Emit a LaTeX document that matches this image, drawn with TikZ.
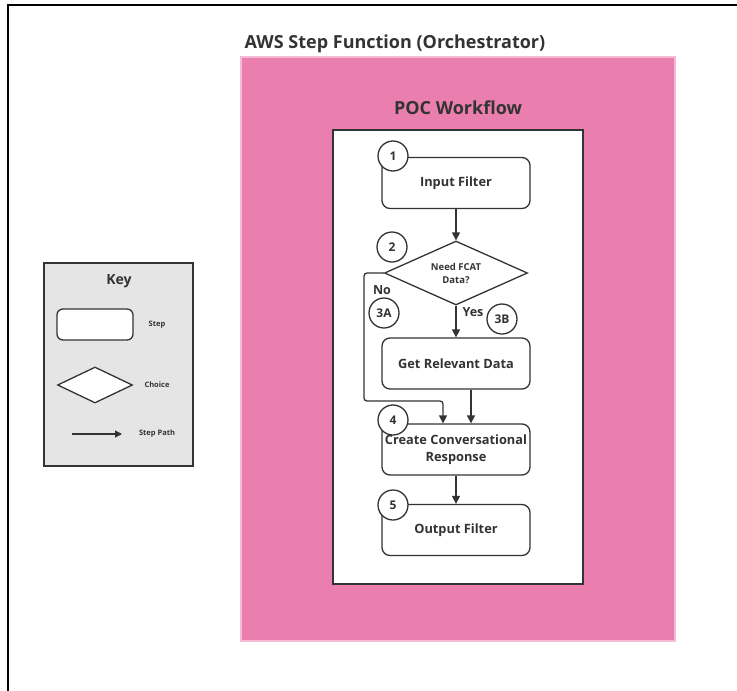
\documentclass[tikz,border=0pt]{standalone}
\usepackage{fontspec}
\setmainfont{Open Sans}
\usetikzlibrary{arrows.meta,shapes.geometric,calc}
\definecolor{pinkbg}{RGB}{234,127,175}
\definecolor{pinkedge}{RGB}{246,186,213}
\definecolor{ink}{RGB}{51,51,51}
\definecolor{keygray}{RGB}{229,229,229}
\tikzset{
  arr/.style={draw=ink, line width=1.3pt, -{Triangle[length=8pt,width=8pt]}},
  stepbox/.style={draw=ink, line width=1.3pt, fill=white, rounded corners=8pt,
    minimum width=148pt, minimum height=51pt, inner sep=1pt, align=center,
    font=\fontsize{12.8}{17}\selectfont\bfseries, text=ink},
  choicebox/.style={diamond, draw=ink, line width=1.3pt, fill=white, aspect=2.4,
    minimum width=143pt, minimum height=64pt, inner sep=0pt, align=center,
    font=\fontsize{9.5}{13}\selectfont\bfseries, text=ink},
  badge/.style={circle, draw=ink, line width=1.3pt, fill=white, minimum size=30pt,
    inner sep=0pt, font=\fontsize{12}{14}\selectfont\bfseries, text=ink},
  lbl/.style={font=\fontsize{12.5}{15}\selectfont\bfseries, text=ink, inner sep=0pt},
  keylbl/.style={font=\fontsize{7.5}{9}\selectfont\bfseries, text=ink, inner sep=0pt},
}
\begin{document}
\begin{tikzpicture}[x=1pt,y=-1pt]
\useasboundingbox (0,0) rectangle (737,691);
\fill[white] (0,0) rectangle (737,691);
% page frame (top and left edges)
\draw[black, line width=2.5pt] (8,691) -- (8,5) -- (737,5);

% orchestrator container
\node[font=\fontsize{18}{21}\selectfont\bfseries, text=ink, inner sep=0pt] (orchtitle) at (395,44) {AWS Step Function (Orchestrator)};
\draw[fill=pinkbg, draw=pinkedge, line width=1.2pt] (241,57) rectangle (675,641);
\node[font=\fontsize{18}{21}\selectfont\bfseries, text=ink, inner sep=0pt] (poctitle) at (458,108) {POC Workflow};
\draw[fill=white, draw=ink, line width=1.3pt] (333,130) rectangle (583,584);

% workflow steps
\node[stepbox] (inp) at (456,183) {Input Filter};
\node[choicebox] (dec) at (456,273) {Need FCAT\\Data?};
\node[stepbox] (get) at (456,363.5) {Get Relevant Data};
\node[stepbox] (resp) at (456,449.5) {Create Conversational\\Response};
\node[stepbox] (out) at (456,530) {Output Filter};

% connectors
\coordinate (nobend) at (364,401);
\draw[arr] (inp) -- (dec);
\draw[arr, rounded corners=3pt] (dec.west) -| (nobend) -| ([xshift=-13pt]resp.north);
\draw[arr] (dec.south) -- (get.north);
\draw[arr] ([xshift=15pt]get.south) -- ([xshift=15pt]resp.north);
\draw[arr] (resp) -- (out);

\node[lbl] (nolbl) at (382,290) {No};
\node[lbl] (yeslbl) at (473,312) {Yes};

% step numbers
\node[badge] (n1) at (393,156) {1};
\node[badge] (n2) at (392,247) {2};
\node[badge] (n3a) at (384,313) {3A};
\node[badge] (n3b) at (502,319) {3B};
\node[badge] (n4) at (393,420) {4};
\node[badge] (n5) at (393,505) {5};

% legend
\draw[fill=keygray, draw=ink, line width=1.3pt] (44,263) rectangle (193,466);
\node[font=\fontsize{14}{17}\selectfont\bfseries, text=ink, inner sep=0pt] (keytitle) at (119,281) {Key};
\node[draw=ink, line width=1.3pt, fill=white, rounded corners=6pt, minimum width=76pt, minimum height=31pt, inner sep=0pt] (kstep) at (95,324.5) {};
\node[keylbl] (kstepl) at (157,325) {Step};
\node[diamond, draw=ink, line width=1.3pt, fill=white, aspect=2, minimum width=75pt, minimum height=36pt, inner sep=0pt] (kchoice) at (95,385) {};
\node[keylbl] (kchoicel) at (157,385) {Choice};
\coordinate (kpathA) at (72,434);
\node[keylbl] (kpathl) at (157,434) {Step Path};
\draw[draw=ink, line width=1.1pt, -{Triangle[length=7pt,width=7pt]}] (kpathA) -- (122,434);
\end{tikzpicture}
\end{document}
